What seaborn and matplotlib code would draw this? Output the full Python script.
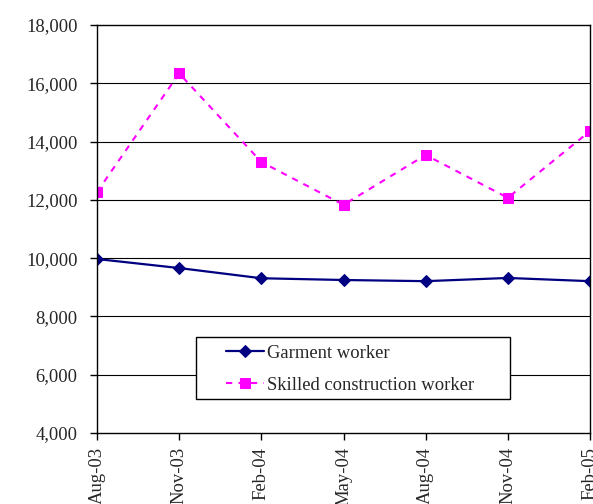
import matplotlib
matplotlib.use("Agg")
import matplotlib.pyplot as plt
import matplotlib.patches as mpatches
import seaborn as sb
import pandas as pd

months = ["Aug-03", "Nov-03", "Feb-04", "May-04", "Aug-04", "Nov-04", "Feb-05"]
garment = [9970, 9660, 9310, 9250, 9210, 9320, 9210]
construction = [12270, 16340, 13300, 11830, 13540, 12070, 14360]

sb.set_style("white")
plt.rcParams['font.family'] = ['Liberation Serif', 'DejaVu Serif']
plt.rcParams['font.size'] = 13.4

df = pd.DataFrame({"pos": range(len(months)), "garment": garment, "construction": construction})

fig = plt.figure(figsize=(5.93, 5.04), dpi=100)
ax = fig.add_axes([97 / 593, 1 - 433 / 504, 493 / 593, 408 / 504])

ax.set_ylim(4000, 18000)
ax.set_xlim(0, len(months) - 1)
for v in range(6000, 18000, 2000):
    ax.axhline(v, color='black', linewidth=0.8, zorder=0)

sb.lineplot(data=df, x="pos", y="garment", ax=ax, color='#000080', marker='D',
            markersize=6, markeredgecolor='#000080', linewidth=1.6, label="Garment worker")
sb.lineplot(data=df, x="pos", y="construction", ax=ax, color='#FF00FF', marker='s',
            markersize=7, markeredgecolor='#FF00FF', linewidth=1.5, linestyle=(0, (3, 3)),
            label="Skilled construction worker")

ax.set_xticks(range(len(months)))
ax.set_xticklabels(months, rotation=90)
ax.set_yticks(range(4000, 18001, 2000))
ax.set_yticklabels([f"{v:,}" for v in range(4000, 18001, 2000)])
ax.set_xlabel("")
ax.set_ylabel("")
ax.tick_params(axis='both', direction='out', length=5, width=1, color='black', labelsize=13.4)
ax.tick_params(axis='x', bottom=True, pad=5)
ax.tick_params(axis='y', left=True, pad=9)
for s in ax.spines.values():
    s.set_color('black')
    s.set_linewidth(1)

# legend box drawn separately (wider than the entries, like the original)
box = mpatches.Rectangle((0.201, 0.083), 0.637, 0.152, transform=ax.transAxes,
                         facecolor='white', edgecolor='black', linewidth=1, zorder=4)
ax.add_patch(box)
leg = ax.legend(loc='upper left', bbox_to_anchor=(0.255, 0.225), borderaxespad=0,
                frameon=False, handlelength=2.0, handletextpad=0.2,
                fontsize=13.4, borderpad=0.2, labelspacing=0.8)
leg.set_zorder(5)

fig.savefig("out.png", dpi=100)
